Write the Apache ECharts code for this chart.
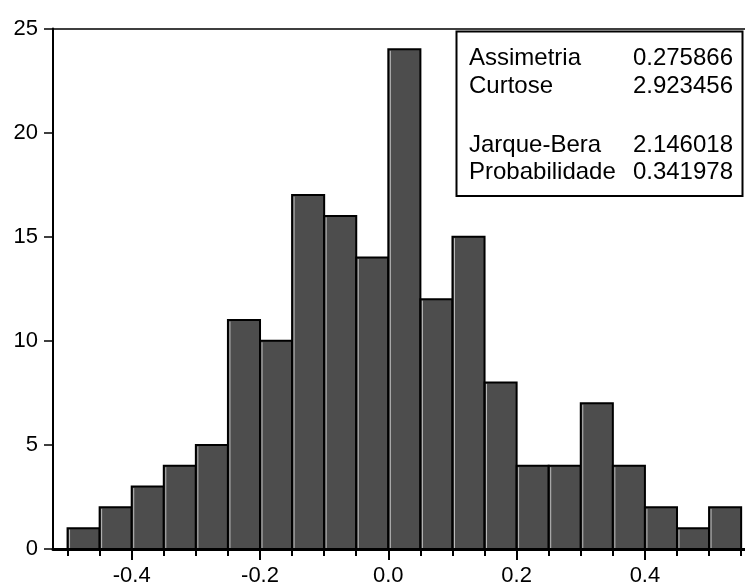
<!DOCTYPE html>
<html>
<head>
<meta charset="utf-8">
<script src="https://cdn.jsdelivr.net/npm/echarts@6/dist/echarts.min.js"></script>
<style>
  html, body { margin: 0; padding: 0; background: #fff; }
  #chart { width: 745px; height: 587px; }
</style>
</head>
<body>
<div id="chart"></div>
<script>
// bin edges of the histogram (width 0.05)
const binEdges = [-0.5, -0.45, -0.4, -0.35, -0.3, -0.25, -0.2, -0.15, -0.1, -0.05, 0,
  0.05, 0.1, 0.15, 0.2, 0.25, 0.3, 0.35, 0.4, 0.45, 0.5, 0.55];
const counts = [1, 2, 3, 4, 5, 11, 10, 17, 16, 14, 24, 12, 15, 8, 4, 4, 7, 4, 2, 1, 2];
const xTickLabels = [-0.4, -0.2, 0, 0.2, 0.4];
const yTicks = [0, 5, 10, 15, 20, 25];

const statNames = ["Assimetria", "Curtose", "Jarque-Bera", "Probabilidade"];
const statValues = ["0.275866", "2.923456", "2.146018", "0.341978"];
const statRowsY = [58, 86, 145, 172.5];

const FONT = '"Liberation Sans", Arial, sans-serif';

const chart = echarts.init(document.getElementById("chart"));

const barData = counts.map((c, i) => [binEdges[i], binEdges[i + 1], c]);

function renderBar(params, api) {
  const a = api.coord([api.value(0), api.value(2)]);
  const b = api.coord([api.value(1), 0]);
  return {
    type: "group",
    children: [
      {
        type: "rect",
        shape: { x: a[0], y: a[1], width: b[0] - a[0], height: b[1] - a[1] },
        style: { fill: "#4d4d4d", stroke: "#000", lineWidth: 2 }
      },
      {
        type: "line",
        shape: { x1: a[0] + 2, y1: a[1] + 1.5, x2: a[0] + 2, y2: b[1] },
        style: { stroke: "#bdbdbd", lineWidth: 1 }
      }
    ]
  };
}

const statTexts = [];
statNames.forEach((name, i) => {
  statTexts.push({
    type: "text",
    x: 469, y: statRowsY[i],
    style: { text: name, font: "24px " + FONT, fill: "#000", textAlign: "left", textVerticalAlign: "middle" }
  });
  statTexts.push({
    type: "text",
    x: 733, y: statRowsY[i],
    style: { text: statValues[i], font: "24px " + FONT, fill: "#000", textAlign: "right", textVerticalAlign: "middle" }
  });
});

const option = {
  animation: false,
  backgroundColor: "#fff",
  grid: { left: 53, right: 0, top: 28.5, bottom: 38 },
  xAxis: [
    {
      type: "value",
      min: -0.5227,
      max: 0.556,
      position: "bottom",
      z: 5,
      splitLine: { show: false },
      axisLine: { show: true, onZero: false, lineStyle: { color: "#000", width: 3 } },
      axisTick: { show: true, customValues: xTickLabels, length: 11, lineStyle: { color: "#000", width: 2 } },
      axisLabel: {
        customValues: xTickLabels,
        formatter: v => v.toFixed(1),
        color: "#000",
        fontFamily: FONT,
        fontSize: 22,
        margin: 16
      }
    },
    {
      type: "value",
      min: -0.5227,
      max: 0.556,
      position: "bottom",
      z: 5,
      splitLine: { show: false },
      axisLine: { show: false, onZero: false },
      axisTick: { show: true, customValues: binEdges, length: 7, lineStyle: { color: "#000", width: 2 } },
      axisLabel: { show: false }
    },
    {
      type: "value",
      min: -0.5227,
      max: 0.556,
      position: "top",
      splitLine: { show: false },
      axisLine: { show: true, onZero: false, lineStyle: { color: "#000", width: 1.5 } },
      axisTick: { show: false },
      axisLabel: { show: false }
    }
  ],
  yAxis: {
    type: "value",
    min: 0,
    max: 25,
    interval: 5,
    position: "left",
    z: 5,
    splitLine: { show: false },
    axisLine: { show: true, onZero: false, lineStyle: { color: "#000", width: 2 } },
    axisTick: { show: true, length: 9, lineStyle: { color: "#000", width: 1.5 } },
    axisLabel: {
      customValues: yTicks,
      color: "#000",
      fontFamily: FONT,
      fontSize: 22,
      margin: 15
    }
  },
  graphic: [
    {
      type: "rect",
      shape: { x: 456.5, y: 31.5, width: 286, height: 164.5 },
      style: { fill: "#fff", stroke: "#000", lineWidth: 2 },
      z: 10
    }
  ].concat(statTexts.map(t => Object.assign({ z: 11 }, t))),
  series: [
    {
      type: "custom",
      xAxisIndex: 0,
      renderItem: renderBar,
      encode: { x: [0, 1], y: 2 },
      data: barData
    }
  ]
};

chart.setOption(option);
</script>
</body>
</html>
